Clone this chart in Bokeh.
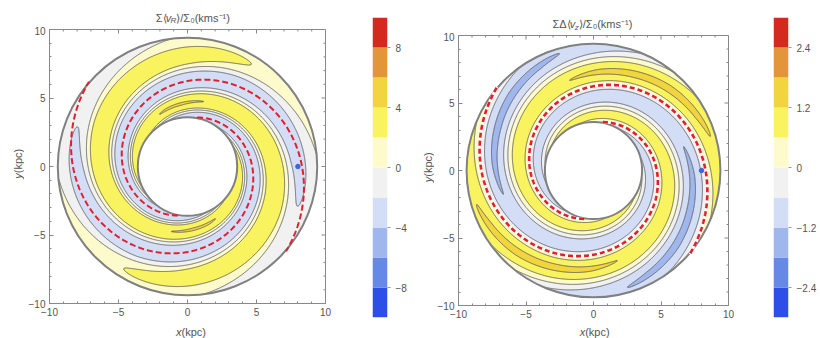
import numpy as np
from bokeh.plotting import figure
from bokeh.layouts import row, column
from bokeh.models import LinearAxis, FixedTicker, Range1d, CustomJSTickFormatter
from bokeh.core.properties import value
from bokeh.embed import file_html
from bokeh.resources import INLINE

# ---------------- values ----------------
levels_left = [-10, -8, -6, -4, -2, 0, 2, 4, 6, 8, 10]
cbar_ticks_left = [-8, -4, 0, 4, 8]
levels_right = [-3.0, -2.4, -1.8, -1.2, -0.6, 0.0, 0.6, 1.2, 1.8, 2.4, 3.0]
cbar_ticks_right = [-2.4, -1.2, 0, 1.2, 2.4]
band_colors = ["#2d4fe8", "#6688e6", "#a0b7ee", "#d3def6", "#f1f1f1",
               "#fdfbcc", "#faf360", "#f1d440", "#e3953a", "#d4291f"]
axis_ticks = [-10, -5, 0, 5, 10]
minor_ticks = list(range(-10, 11))

# spiral-arm model (radius at phi=0 and pitch)
arm_R_ref = 8.3        # kpc
pitch_deg = 10.3       # deg
R_in, R_out = 3.6, 9.4 # annulus limits (kpc)
sun_x = [8.0]
sun_y = [0.0]

# amplitude of the two-armed pattern vs radius, and band-shape exponent
amp_radii = [3.6, 4.5, 5.5, 6.5, 7.5, 8.5, 9.4]
amp_left = [3.5, 3.95, 3.7, 3.5, 3.4, 2.3, 1.4]
offset_left = 0.15
shape_left = 0.7
amp_right = [0.8, 0.9, 1.0, 1.15, 1.28, 1.28, 1.15]
shape_right = 1.0

# composed texts: (text, font px, raise px, italic); the pivot segment is left-aligned at the anchor
title_left = ([("Σ⟨", 11, 0, False), ("v", 11, 0, True), ("R", 8, -3, True)],
              [("⟩/Σ₀(kms⁻¹)", 11, 0, False)])
title_right = ([("ΣΔ⟨", 11, 0, False), ("v", 11, 0, True), ("z", 8, -3, True)],
               [("⟩/Σ₀(kms⁻¹)", 11, 0, False)])
xlab = ([("x", 11, 0, True)], [("(kpc)", 11, 0, False)])
ylab = ([("y", 11, 0, True)], [("(kpc)", 11, 0, False)])

FONT = "Liberation Sans"
TXT = "#555555"

# ---------------- field ----------------
n = 501
gx = np.linspace(-10, 10, n)
X, Y = np.meshgrid(gx, gx)
R = np.hypot(X, Y)
PHI = np.arctan2(Y, X)
tanp = np.tan(np.radians(pitch_deg))
phase = 2 * (PHI - np.log(arm_R_ref / np.maximum(R, 1e-6)) / tanp)
mask = (R < R_in) | (R > R_out)
cL = -np.cos(phase)
cR = np.sin(phase)
Z_left = offset_left + np.interp(R, amp_radii, amp_left) * np.sign(cL) * np.abs(cL) ** shape_left
Z_right = np.interp(R, amp_radii, amp_right) * np.sign(cR) * np.abs(cR) ** shape_right
Z_left[mask] = np.nan
Z_right[mask] = np.nan

W = {'Σ': 0.60, 'Δ': 0.67, '⟨': 0.39, '⟩': 0.39, 'v': 0.5, 'R': 0.72, 'z': 0.5, '/': 0.28,
     '0': 0.56, '(': 0.33, ')': 0.33, 'k': 0.5, 'm': 0.83, 's': 0.5, '−': 0.58, '1': 0.56,
     'p': 0.56, 'c': 0.5, 'x': 0.5, 'y': 0.5, '₀': 0.36, '⁻': 0.36, '¹': 0.36}


def tw(s, size):
    return sum(W.get(ch, 0.55) for ch in s) * size


def text_fig(w, h, xc, yb, segs, vertical=False):
    """A small figure whose frame is the whole box, holding composed text (px coords)."""
    f = figure(width=w, height=h, x_range=Range1d(0, w), y_range=Range1d(0, h),
               output_backend="svg", toolbar_location=None, min_border=0,
               x_axis_location=None, y_axis_location=None)
    f.outline_line_color = None
    f.xgrid.visible = False
    f.ygrid.visible = False
    before, after = segs
    wb = sum(tw(t, s) for t, s, _, _ in before)
    wa = sum(tw(t, s) for t, s, _, _ in after)
    anchor = (wb - wa) / 2.0          # offset of the pivot from the centre
    placed = []
    cur = anchor
    for t, s, rs, it in reversed(before):
        placed.append((t, s, rs, it, cur, "right"))
        cur -= tw(t, s)
    cur = anchor
    for t, s, rs, it in after:
        placed.append((t, s, rs, it, cur, "left"))
        cur += tw(t, s)
    for t, s, rs, it, off, al in placed:
        if vertical:
            x, y, ang = xc - rs, yb + off, np.pi / 2
        else:
            x, y, ang = xc + off, yb + rs, 0.0
        f.text(x=[x], y=[y], text=[t], angle=ang, text_font=value(FONT),
               text_font_size=value(f"{s}px"), text_color=TXT, text_align=al,
               text_baseline="alphabetic", text_font_style="italic" if it else "normal")
    return f


minus_fmt = CustomJSTickFormatter(code="return (tick < 0 ? '\\u2212' : '') + Math.abs(tick).toString();")


def style_axis(ax):
    ax.ticker = FixedTicker(ticks=axis_ticks, minor_ticks=minor_ticks)
    ax.axis_line_color = "#888888"
    ax.major_tick_line_color = "#888888"
    ax.minor_tick_line_color = "#888888"
    ax.major_tick_in = 4
    ax.major_tick_out = 0
    ax.minor_tick_in = 2
    ax.minor_tick_out = 0
    ax.major_label_standoff = 4
    ax.major_label_text_font = FONT
    ax.major_label_text_color = TXT
    ax.major_label_text_font_size = "10px"
    ax.formatter = minus_fmt


def panel(width, height, mbl, mbr, mbt, mbb, fw, fh, Z, levels, arm_white):
    p = figure(width=width, height=height, x_range=Range1d(-10, 10), y_range=Range1d(-10, 10),
               output_backend="svg", toolbar_location=None,
               min_border_left=mbl, min_border_right=mbr, min_border_top=mbt, min_border_bottom=mbb)
    p.xgrid.visible = False
    p.ygrid.visible = False
    p.outline_line_color = "#888888"
    style_axis(p.xaxis[0])
    style_axis(p.yaxis[0])
    p.contour(gx, gx, Z, levels, fill_color=band_colors, line_color="#3c3c3c", line_width=0.7)
    p.ellipse(x=[0, 0], y=[0, 0], width=[2 * R_in, 2 * R_out], height=[2 * R_in, 2 * R_out],
              fill_color=None, line_color="#808080", line_width=2)
    rr = np.linspace(R_in + 0.05, R_out + 0.05, 400)
    for k in (0, 1):
        ph = k * np.pi + np.log(arm_R_ref / rr) / tanp
        ax_, ay_ = rr * np.cos(ph), rr * np.sin(ph)
        if arm_white:
            p.line(ax_, ay_, line_color="white", line_width=2.6)
            p.line(ax_, ay_, line_color="#e0202a", line_width=2.6, line_dash="5 3")
        else:
            p.line(ax_, ay_, line_color="#e0202a", line_width=2, line_dash="6 3")
    p.scatter(sun_x, sun_y, size=4.5, color="#3b67d8")
    # frame ticks on the top and right edges (pointing inward)
    sx, sy = fw / 20.0, fh / 20.0
    mt = [t for t in minor_ticks if t not in axis_ticks]
    for tks, ln in ((axis_ticks, 4.0), (mt, 2.0)):
        tk = np.array(tks, dtype=float)
        p.segment(x0=tk, y0=np.full(len(tk), 10.0), x1=tk, y1=np.full(len(tk), 10.0 - ln / sy),
                  line_color="#888888", line_width=1)
        p.segment(x0=np.full(len(tk), 10.0), y0=tk, x1=np.full(len(tk), 10.0 - ln / sx), y1=tk,
                  line_color="#888888", line_width=1)
    return p


def cbar(width, mbl, mbr, mbt, mbb, levels, ticks):
    c = figure(width=width, height=338, x_range=Range1d(0, 1), y_range=Range1d(levels[0], levels[-1]),
               output_backend="svg", toolbar_location=None, x_axis_location=None, y_axis_location=None,
               min_border_left=mbl, min_border_right=mbr, min_border_top=mbt, min_border_bottom=mbb)
    c.xgrid.visible = False
    c.ygrid.visible = False
    c.outline_line_color = None
    c.quad(left=0, right=1, bottom=levels[:-1], top=levels[1:], fill_color=band_colors, line_color=None)
    ax = LinearAxis(ticker=FixedTicker(ticks=ticks), formatter=minus_fmt)
    ax.axis_line_color = None
    ax.major_tick_line_color = "#999999"
    ax.major_tick_out = 3
    ax.major_tick_in = 0
    ax.minor_tick_line_color = None
    ax.major_label_standoff = 5
    ax.major_label_text_font = FONT
    ax.major_label_text_color = TXT
    ax.major_label_text_font_size = "10px"
    c.add_layout(ax, "right")
    return c


# ---- left panel (x 0..345) ----
yl1 = text_fig(24, 338, 17, 338 - 166, ylab, vertical=True)
t1 = text_fig(321, 26, 163, 26 - 17, title_left)
p1 = panel(321, 294, 25, 20, 3, 17, 276, 274, Z_left, levels_left, False)
x1 = text_fig(321, 18, 163, 7, xlab)
c1 = cbar(65, 27, 23, 10, 21, levels_left, cbar_ticks_left)

# ---- right panel (x 410..820) ----
yl2 = text_fig(24, 338, 17, 338 - 170, ylab, vertical=True)
t2 = text_fig(316, 32, 153.5, 8.5, title_right)
p2 = panel(316, 288, 24, 22, 3, 15, 270, 270, Z_right, levels_right, True)
x2 = text_fig(316, 18, 157.7, 7, xlab)
c2 = cbar(70, 23, 32, 17, 21, levels_right, cbar_ticks_right)

layout = row(yl1, column(t1, p1, x1), c1, yl2, column(t2, p2, x2), c2)
open("out.html", "w").write(file_html(layout, INLINE))
